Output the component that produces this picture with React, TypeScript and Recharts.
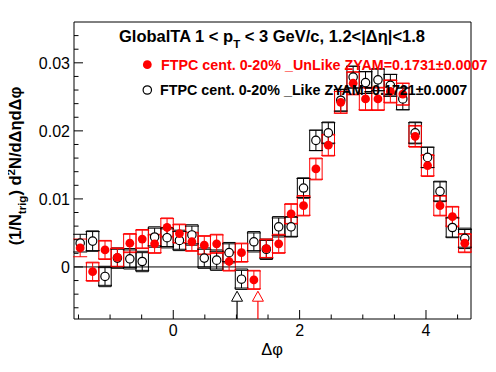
import React from "react";
import {
  ComposedChart,
  Scatter,
  XAxis,
  YAxis,
  ErrorBar,
  ReferenceArea,
  ReferenceLine,
} from "recharts";

const FONT = "'Liberation Sans', Arial, Helvetica, sans-serif";
const W = 488;
const H = 364;

// Δφ bin centres (32 bins over [-π/2, 3π/2])
const binCenters = [
  -1.473, -1.276, -1.08, -0.884, -0.687, -0.491, -0.295, -0.098,
  0.098, 0.295, 0.491, 0.687, 0.884, 1.08, 1.276, 1.473,
  1.669, 1.865, 2.062, 2.258, 2.454, 2.651, 2.847, 3.043,
  3.24, 3.436, 3.633, 3.829, 4.025, 4.222, 4.418, 4.614,
];
const binHalfWidth = 0.0982;

// FTPC cent. 0-20% _UnLike (red, filled)
const unlikeValues = [
  0.0028, -0.0007, 0.0025, 0.0014, 0.0035, 0.0041, 0.0034, 0.0058,
  0.0049, 0.0037, 0.0032, 0.0034, 0.0008, 0.0021, -0.0019, 0.0027,
  0.0034, 0.0078, 0.009, 0.0144, 0.0179, 0.0242, 0.027, 0.0247,
  0.0247, 0.0258, 0.0254, 0.0192, 0.0149, 0.009, 0.0074, 0.0035,
];
const unlikeStatErr = [
  0.0013, 0.0013, 0.0013, 0.0013, 0.0013, 0.0013, 0.0013, 0.0013,
  0.0013, 0.0013, 0.0013, 0.0013, 0.0013, 0.0013, 0.0013, 0.0013,
  0.0013, 0.0014, 0.0014, 0.0015, 0.0015, 0.0016, 0.0016, 0.0016,
  0.0016, 0.0016, 0.0016, 0.0015, 0.0015, 0.0014, 0.0014, 0.0013,
];
const unlikeSysErr = [
  0.0014, 0.0014, 0.0014, 0.0014, 0.0014, 0.0014, 0.0014, 0.0014,
  0.0014, 0.0014, 0.0014, 0.0014, 0.0014, 0.0014, 0.0014, 0.0014,
  0.0014, 0.0015, 0.0015, 0.0016, 0.0016, 0.0016, 0.0017, 0.0017,
  0.0017, 0.0017, 0.0016, 0.0016, 0.0016, 0.0015, 0.0015, 0.0014,
];

// FTPC cent. 0-20% _Like (black, open)
const likeValues = [
  0.0035, 0.0038, -0.0014, 0.0013, 0.0012, 0.0008, 0.0044, 0.0043,
  0.0039, 0.0047, 0.0013, 0.001, 0.0021, -0.0018, 0.0037, 0.0026,
  0.0059, 0.0059, 0.0116, 0.0186, 0.0197, 0.0245, 0.0279, 0.0271,
  0.0275, 0.0267, 0.0247, 0.0197, 0.0161, 0.0111, 0.0058, 0.0042,
];
const likeStatErr = [
  0.0013, 0.0014, 0.0013, 0.0013, 0.0013, 0.0013, 0.0013, 0.0013,
  0.0013, 0.0013, 0.0013, 0.0013, 0.0013, 0.0013, 0.0013, 0.0013,
  0.0013, 0.0014, 0.0014, 0.0015, 0.0015, 0.0016, 0.0016, 0.0016,
  0.0016, 0.0016, 0.0016, 0.0015, 0.0015, 0.0014, 0.0014, 0.0013,
];
const likeSysErr = [
  0.0015, 0.0015, 0.0015, 0.0015, 0.0015, 0.0015, 0.0015, 0.0015,
  0.0015, 0.0015, 0.0015, 0.0015, 0.0015, 0.0015, 0.0015, 0.0015,
  0.0015, 0.0015, 0.0015, 0.0015, 0.0016, 0.0016, 0.0016, 0.0016,
  0.0016, 0.0016, 0.0016, 0.0016, 0.0015, 0.0015, 0.0015, 0.0015,
];

// ZYAM minimum positions (triangle markers)
const likeZyamX = 1.01;
const unlikeZyamX = 1.34;
const zyamMarkerY = -0.0043;
const zyamLineDown = 0.00335;

// Axes
const X_MIN = -Math.PI / 2;
const X_MAX = (3 * Math.PI) / 2;
const Y_MIN = -0.00765;
const Y_MAX = 0.036;
const xTicks = [-1.5, -1, -0.5, 0, 0.5, 1, 1.5, 2, 2.5, 3, 3.5, 4, 4.5];
const xMajor = [0, 2, 4];
const xMajorLabels = ["0", "2", "4"];
const yTicks = [
  -0.006, -0.004, -0.002, 0, 0.002, 0.004, 0.006, 0.008, 0.01, 0.012, 0.014,
  0.016, 0.018, 0.02, 0.022, 0.024, 0.026, 0.028, 0.03, 0.032, 0.034,
];
const yMajor = [0, 0.01, 0.02, 0.03];
const yMajorLabels = ["0", "0.01", "0.02", "0.03"];

const titleText = "GlobalTA 1 < p";
const titleSub = "T";
const titleRest = " < 3 GeV/c, 1.2<|\u0394\u03b7|<1.8";
const unlikeLabel = "FTPC cent. 0-20% _UnLike ZYAM=0.1731\u00b10.0007";
const likeLabel = "FTPC cent. 0-20% _Like ZYAM=0.1721\u00b10.0007";

const unlikeData = binCenters.map((x, i) => ({ x, y: unlikeValues[i], e: unlikeStatErr[i] }));
const likeData = binCenters.map((x, i) => ({ x, y: likeValues[i], e: likeStatErr[i] }));
const likeZyamData = [{ x: likeZyamX, y: zyamMarkerY, e: [zyamLineDown, 0] }];
const unlikeZyamData = [{ x: unlikeZyamX, y: zyamMarkerY, e: [zyamLineDown, 0] }];

const findIdx = (arr: number[], v: number) => arr.findIndex((m) => Math.abs(m - v) < 1e-9);

const XTick = (props: any) => {
  const { x, y, payload } = props;
  const idx = findIdx(xMajor, payload.value);
  const ay = y - 4;
  return (
    <g>
      <line x1={x} x2={x} y1={ay} y2={ay - (idx >= 0 ? 9 : 4.5)} stroke="#000" strokeWidth={1} />
      {idx >= 0 && (
        <text x={x} y={ay + 17} textAnchor="middle" fontFamily={FONT} fontSize={16} fill="#000">
          {xMajorLabels[idx]}
        </text>
      )}
    </g>
  );
};

const YTick = (props: any) => {
  const { x, y, payload } = props;
  const idx = findIdx(yMajor, payload.value);
  const ax = x + 4;
  return (
    <g>
      <line x1={ax} x2={ax + (idx >= 0 ? 9 : 4.5)} y1={y} y2={y} stroke="#000" strokeWidth={1} />
      {idx >= 0 && (
        <text x={x} y={y} dy={5.8} textAnchor="end" fontFamily={FONT} fontSize={16} fill="#000">
          {yMajorLabels[idx]}
        </text>
      )}
    </g>
  );
};

const RedDot = (p: any) => <circle cx={p.cx} cy={p.cy} r={4.4} fill="#ff0000" />;
const OpenCircle = (p: any) => (
  <circle cx={p.cx} cy={p.cy} r={4.2} fill="#ffffff" stroke="#000" strokeWidth={1.2} />
);
const makeTri = (color: string) => (p: any) => (
  <polygon
    points={`${p.cx},${p.cy - 5} ${p.cx - 5.5},${p.cy + 5} ${p.cx + 5.5},${p.cy + 5}`}
    fill="#ffffff"
    stroke={color}
    strokeWidth={1}
  />
);
const BlackTri = makeTri("#000");
const RedTri = makeTri("#ff0000");

export default function App() {
  return (
    <div style={{ position: "relative", width: W, height: H }}>
      <ComposedChart width={W} height={H} margin={{ top: 14, right: 25, bottom: 0, left: 0 }}>
        <XAxis
          dataKey="x"
          type="number"
          domain={[X_MIN, X_MAX]}
          ticks={xTicks}
          interval={0}
          allowDataOverflow
          axisLine={false}
          tickLine={false}
          tickSize={0}
          tickMargin={4}
          tick={(p: any) => <XTick {...p} />}
          height={53}
        />
        <YAxis
          type="number"
          domain={[Y_MIN, Y_MAX]}
          ticks={yTicks}
          interval={0}
          allowDataOverflow
          axisLine={false}
          tickLine={false}
          tickSize={0}
          tickMargin={4}
          tick={(p: any) => <YTick {...p} />}
          width={66}
        />
        <ReferenceArea
          x1={X_MIN}
          x2={X_MAX}
          y1={Y_MIN}
          y2={Y_MAX}
          fill="none"
          fillOpacity={0}
          stroke="#000"
          strokeWidth={1}
        />
        <ReferenceLine y={0} stroke="#000" strokeWidth={1} />
        {binCenters.map((x, i) => (
          <ReferenceArea
            key={`lb${i}`}
            x1={x - binHalfWidth}
            x2={x + binHalfWidth}
            y1={likeValues[i] - likeSysErr[i]}
            y2={likeValues[i] + likeSysErr[i]}
            fill="none"
            fillOpacity={0}
            stroke="#000"
            strokeWidth={1}
          />
        ))}
        {binCenters.map((x, i) => (
          <ReferenceArea
            key={`ub${i}`}
            x1={x - binHalfWidth}
            x2={x + binHalfWidth}
            y1={unlikeValues[i] - unlikeSysErr[i]}
            y2={unlikeValues[i] + unlikeSysErr[i]}
            fill="none"
            fillOpacity={0}
            stroke="#ff0000"
            strokeWidth={1}
          />
        ))}
        <Scatter data={likeData} dataKey="y" shape={OpenCircle} isAnimationActive={false}>
          <ErrorBar dataKey="e" direction="y" width={7} stroke="#000" strokeWidth={1} />
        </Scatter>
        <Scatter data={unlikeData} dataKey="y" shape={RedDot} isAnimationActive={false}>
          <ErrorBar dataKey="e" direction="y" width={7} stroke="#ff0000" strokeWidth={1} />
        </Scatter>
        <Scatter data={likeZyamData} dataKey="y" shape={BlackTri} isAnimationActive={false}>
          <ErrorBar dataKey="e" direction="y" width={0} stroke="#000" strokeWidth={1.2} />
        </Scatter>
        <Scatter data={unlikeZyamData} dataKey="y" shape={RedTri} isAnimationActive={false}>
          <ErrorBar dataKey="e" direction="y" width={0} stroke="#ff0000" strokeWidth={1.2} />
        </Scatter>
      </ComposedChart>
      <svg
        width={W}
        height={H}
        style={{ position: "absolute", left: 0, top: 0, pointerEvents: "none", overflow: "visible" }}
      >
        <text x={264} y={33.5} textAnchor="middle" fontFamily={FONT} fontSize={16.5} fontWeight="bold" fill="#000">
          {titleText}
          <tspan fontSize={11.5} dy={6}>{titleSub}</tspan>
          <tspan dy={-6}>{titleRest}</tspan>
        </text>
        <circle cx={139.3} cy={56.7} r={4.4} fill="#ff0000" />
        <text x={153} y={62} fontFamily={FONT} fontSize={14.3} fontWeight="bold" fill="#ff0000">
          {unlikeLabel}
        </text>
        <circle cx={139.3} cy={82} r={4.2} fill="#fff" stroke="#000" strokeWidth={1.2} />
        <text x={152} y={87} fontFamily={FONT} fontSize={14.3} fontWeight="bold" fill="#000">
          {likeLabel}
        </text>
        <text
          x={12.5}
          y={158}
          transform="rotate(-90 12.5 158)"
          textAnchor="middle"
          fontFamily={FONT}
          fontSize={16.5}
          fontWeight="bold"
          fill="#000"
        >
          (1/N
          <tspan fontSize={11.5} dy={5}>trig</tspan>
          <tspan dy={-5}>) d</tspan>
          <tspan fontSize={11.5} dy={-6}>2</tspan>
          <tspan dy={6}>N/d{"\u0394\u03b7"}d{"\u0394\u03c6"}</tspan>
        </text>
        <text x={264} y={347} textAnchor="middle" fontFamily={FONT} fontSize={16.5} fill="#000">
          {"\u0394\u03c6"}
        </text>
      </svg>
    </div>
  );
}
